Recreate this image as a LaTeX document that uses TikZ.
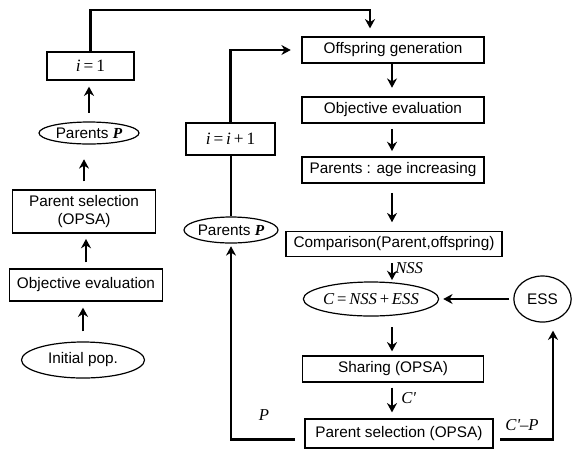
\documentclass[tikz,border=0pt]{standalone}
\usepackage{fontspec}
\setmainfont{Liberation Sans}
\newfontfamily\tms{Liberation Serif}
\usetikzlibrary{arrows.meta,shapes.geometric}
\newcommand\mi[1]{{\tms\itshape #1}}
\newcommand\mb[1]{{\tms\bfseries\itshape #1}}
\begin{document}
\begin{tikzpicture}[x=0.75pt,y=-0.75pt,
  every node/.style={font=\fontsize{11.5}{13}\selectfont, inner sep=0pt, align=center},
  box/.style={draw, line width=0.9pt, rectangle},
  oval/.style={draw, line width=0.9pt, ellipse},
  arr/.style={line width=1.6pt, -{Stealth[length=7pt,width=7.5pt]}, shorten <=3pt, shorten >=4pt},
  ln/.style={line width=1.6pt},
  lbl/.style={font=\fontsize{12.5}{14}\selectfont\tms\itshape}
]
\useasboundingbox (0,0) rectangle (577,451);

% left column
\node[box, minimum width=65.25pt, minimum height=21pt] (i1) at (90.5,66) {\fontsize{13}{14}\selectfont\mi{i}\,{\tms =}\,{\tms 1}};
\node[oval, minimum width=75pt, minimum height=16.5pt] (parL) at (89,133) {Parents \mb{P}};
\node[box, minimum width=107.25pt, minimum height=32.25pt] (psL) at (84,211.5) {Parent selection\\(OPSA)};
\node[box, minimum width=114.75pt, minimum height=24pt] (objL) at (86,285) {Objective evaluation};
\node[oval, minimum width=92.25pt, minimum height=27pt] (init) at (83,360) {Initial pop.};

% middle column
\node[box, minimum width=66.75pt, minimum height=24pt] (ii) at (230.5,139) {\fontsize{13}{14}\selectfont\mi{i}\,{\tms =}\,\mi{i}\,{\tms +}\,{\tms 1}};
\node[oval, minimum width=70.5pt, minimum height=19.5pt] (parM) at (231,230) {Parents \mb{P}};

% right column
\node[box, minimum width=136.5pt, minimum height=19.5pt] (off) at (393,50) {Offspring generation};
\node[box, minimum width=136.5pt, minimum height=19.5pt] (objR) at (393,110) {Objective evaluation};
\node[box, minimum width=136.5pt, minimum height=19.5pt] (age) at (393,170) {Parents : age increasing};
\node[box, minimum width=162pt, minimum height=18.75pt] (comp) at (394,244) {Comparison(Parent,offspring)};
\node[oval, minimum width=69pt, minimum height=25.5pt] (C) at (371,299) {\fontsize{12.5}{14}\selectfont\mi{C}\,{\tms =}\,\mi{NSS}\,{\tms +}\,\mi{ESS}};
\node[oval, minimum width=43pt, minimum height=34.5pt] (ESS) at (542.5,299) {ESS};
\node[box, minimum width=135.75pt, minimum height=19.5pt] (share) at (393,369) {Sharing (OPSA)};
\node[box, minimum width=141pt, minimum height=21.75pt] (psR) at (399,433.5) {Parent selection (OPSA)};

% labels
\node[lbl, anchor=west] (lNSS) at (395,268) {NSS};
\node[lbl, anchor=west] (lC) at (401,398) {C'};
\node[lbl] (lP) at (264,415) {P};
\node[lbl] (lCP) at (522,425) {C'{\tms\upshape –}P};

% coordinates
\coordinate (topR) at (370,10);
\coordinate (midTop) at (231,50);
\coordinate (col) at (392,0);
\coordinate (ecol) at (553,0);

% left column arrows
\draw[arr, shorten <=7.5pt, shorten >=4.5pt] (init.north) -- (init.north |- objL.south);
\draw[arr, shorten <=4.5pt, shorten >=4pt] (objL.north) -- (objL.north |- psL.south);
\draw[arr, shorten <=6pt, shorten >=11pt] (psL.north) -- (psL.north |- parL.south);
\draw[arr, shorten <=6.5pt, shorten >=4.5pt] (parL.north) -- (parL.north |- i1.south);
\draw[arr, shorten <=0pt, shorten >=6pt] (i1.north) -- (i1.north |- topR) -- (topR) -- (topR |- off.north);

% middle
\draw[ln] (parM.north) -- (parM.north |- ii.south);
\draw[arr, shorten <=0pt, shorten >=8pt] (ii.north) -- (ii.north |- midTop) -- (midTop -| off.west);
\draw[arr, shorten <=0pt, shorten >=2pt] ([xshift=-7pt,yshift=-4.5pt]psR.west) -- ([yshift=-4.5pt]psR.west -| parM.south) -- (parM.south);

% right column
\draw[arr, shorten <=0pt, shorten >=6.5pt] (off.south -| col) -- (col |- objR.north);
\draw[arr, shorten <=4pt, shorten >=4pt] (objR.south -| col) -- (col |- age.north);
\draw[arr, shorten <=7pt, shorten >=6.5pt] (age.south -| col) -- (col |- comp.north);
\draw[arr, shorten <=4.5pt, shorten >=1pt] (comp.south -| col) -- (col |- C.north);
\draw[arr, shorten <=8pt, shorten >=3pt] (C.south -| col) -- (col |- share.north);
\draw[arr, shorten <=3.75pt, shorten >=4.5pt] (share.south -| col) -- (col |- psR.north);
\draw[arr, shorten <=3pt, shorten >=3pt] (ESS.west) -- (C.east);
\draw[arr, shorten <=0pt, shorten >=6pt] ([xshift=5pt,yshift=-4.5pt]psR.east) -- ([yshift=-4.5pt]psR.east -| ecol) -- (ecol |- ESS.south);
\end{tikzpicture}
\end{document}
